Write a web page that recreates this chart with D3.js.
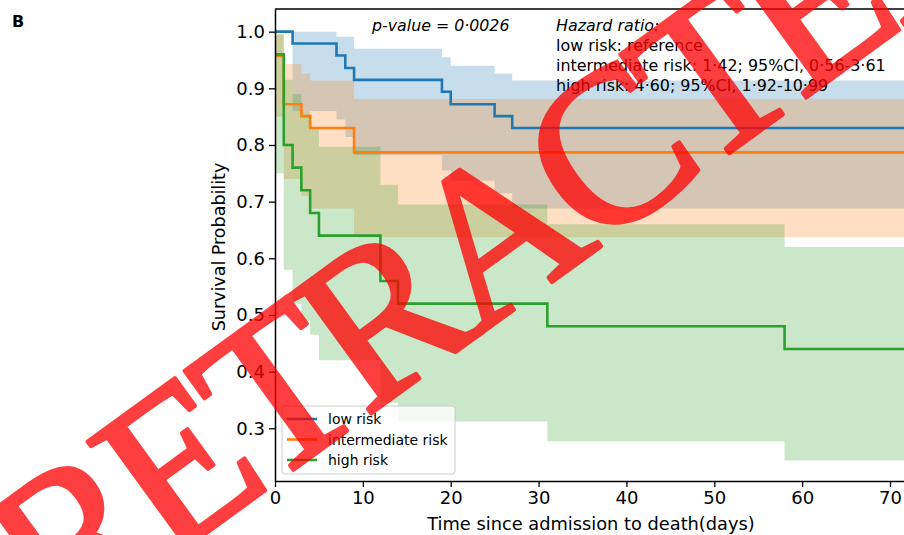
<!DOCTYPE html>
<html lang="en">
<head>
<meta charset="UTF-8">
<script src="https://d3js.org/d3.v7.min.js"></script>
<style>
  body { margin: 0; background: #fff; }
  svg { display: block; font-family: "DejaVu Sans", sans-serif; }
</style>
</head>
<body>
<div id="chart_area"></div>
<script>
// Kaplan-Meier estimates (step-post)
var lowTimes  = [0, 2, 7, 8, 9, 19, 20, 25, 27, 75];
var lowSurv   = [1.0, 0.979, 0.958, 0.936, 0.915, 0.894, 0.872, 0.851, 0.830, 0.830];
var lowUpper  = [1.0, 1.0, 0.991, 0.991, 0.970, 0.955, 0.940, 0.926, 0.914, 0.914];
var lowLower  = [1.0, 0.86, 0.845, 0.814, 0.782, 0.755, 0.737, 0.715, 0.688, 0.688];

var midTimes  = [0, 1, 3, 4, 9, 75];
var midSurv   = [0.957, 0.872, 0.851, 0.830, 0.787, 0.787];
var midUpper  = [0.995, 0.943, 0.926, 0.914, 0.881, 0.881];
var midLower  = [0.85, 0.74, 0.71, 0.688, 0.637, 0.637];

var highTimes = [0, 1, 2, 3, 4, 5, 12, 14, 31, 58, 75];
var highSurv  = [0.96, 0.80, 0.76, 0.72, 0.68, 0.64, 0.56, 0.52, 0.48, 0.44, 0.44];
var highUpper = [0.995, 0.915, 0.89, 0.86, 0.83, 0.797, 0.73, 0.695, 0.66, 0.62, 0.62];
var highLower = [0.75, 0.58, 0.52, 0.49, 0.465, 0.42, 0.345, 0.312, 0.277, 0.243, 0.243];

var seriesNames = ["low risk", "intermediate risk", "high risk"];
var colors = ["#1f77b4", "#ff7f0e", "#2ca02c"];

var xTicks = [0, 10, 20, 30, 40, 50, 60, 70];
var yTicks = [0.3, 0.4, 0.5, 0.6, 0.7, 0.8, 0.9, 1.0];

var hazardLines = [
  "low risk: reference",
  "intermediate risk: 1\u00b742; 95%CI, 0\u00b756-3\u00b761",
  "high risk: 4\u00b760; 95%CI, 1\u00b792-10\u00b799"
];

var W = 904, H = 535;
var mLeft = 275, mRight = 916, mTop = 9, mBottom = 481;

var svg = d3.select("#chart_area").append("svg")
  .attr("width", W).attr("height", H);

var x = d3.scaleLinear().domain([0, 72.96]).range([mLeft, mRight]);
var y = d3.scaleLinear().domain([0.207, 1.040]).range([mBottom, mTop]);

svg.append("clipPath").attr("id", "plotclip")
  .append("rect").attr("x", mLeft).attr("y", mTop)
  .attr("width", mRight - mLeft).attr("height", mBottom - mTop);

var series = [
  { t: lowTimes, s: lowSurv, lo: lowLower, hi: lowUpper },
  { t: midTimes, s: midSurv, lo: midLower, hi: midUpper },
  { t: highTimes, s: highSurv, lo: highLower, hi: highUpper }
];

var plot = svg.append("g").attr("clip-path", "url(#plotclip)");

var area = d3.area().curve(d3.curveStepAfter)
  .x(function(d) { return x(d.t); })
  .y0(function(d) { return y(d.lo); })
  .y1(function(d) { return y(d.hi); });

var line = d3.line().curve(d3.curveStepAfter)
  .x(function(d) { return x(d.t); })
  .y(function(d) { return y(d.s); });

series.forEach(function(sr, i) {
  var pts = sr.t.map(function(t, k) { return { t: t, s: sr.s[k], lo: sr.lo[k], hi: sr.hi[k] }; });
  plot.append("path").datum(pts)
    .attr("d", area)
    .attr("fill", colors[i])
    .attr("fill-opacity", 0.25);
});

series.forEach(function(sr, i) {
  var pts = sr.t.map(function(t, k) { return { t: t, s: sr.s[k] }; });
  plot.append("path").datum(pts)
    .attr("d", line)
    .attr("fill", "none")
    .attr("stroke", colors[i])
    .attr("stroke-width", 2.6);
});

// axes
var yAxis = svg.append("g")
  .attr("transform", "translate(" + mLeft + ",0)")
  .call(d3.axisLeft(y).tickValues(yTicks).tickFormat(d3.format(".1f"))
    .tickSize(6).tickSizeOuter(0).tickPadding(4));
var xAxis = svg.append("g")
  .attr("transform", "translate(0," + mBottom + ")")
  .call(d3.axisBottom(x).tickValues(xTicks).tickSize(6).tickSizeOuter(0).tickPadding(4));

[yAxis, xAxis].forEach(function(a) {
  a.selectAll("text").attr("font-family", "DejaVu Sans").attr("font-size", 18).attr("fill", "#000");
  a.selectAll("line").attr("stroke", "#000").attr("stroke-width", 1.3);
  a.select(".domain").attr("stroke", "#000").attr("stroke-width", 1.5);
});

svg.append("line")
  .attr("x1", mLeft).attr("x2", mRight).attr("y1", mTop).attr("y2", mTop)
  .attr("stroke", "#000").attr("stroke-width", 1.5);

svg.append("text")
  .attr("transform", "translate(225," + 247 + ") rotate(-90)")
  .attr("text-anchor", "middle")
  .attr("font-size", 17.5)
  .text("Survival Probability");

svg.append("text")
  .attr("x", 591).attr("y", 530)
  .attr("text-anchor", "middle")
  .attr("font-size", 17.8)
  .text("Time since admission to death(days)");

svg.append("text")
  .attr("x", 12).attr("y", 27)
  .attr("font-size", 16).attr("font-weight", "bold")
  .text("B");

// annotations
svg.append("text")
  .attr("x", 372).attr("y", 31)
  .attr("font-size", 15.8).attr("font-style", "italic")
  .text("p-value = 0\u00b70026");

svg.append("text")
  .attr("x", 556).attr("y", 31)
  .attr("font-size", 15.9).attr("font-style", "italic")
  .text("Hazard ratio:");

svg.selectAll(".hz").data(hazardLines).enter().append("text")
  .attr("class", "hz")
  .attr("x", 556)
  .attr("y", function(d, i) { return 51 + i * 20; })
  .attr("font-size", 15.9)
  .text(function(d) { return d; });

// legend
var lg = svg.append("g");
lg.append("rect")
  .attr("x", 282).attr("y", 406).attr("width", 173).attr("height", 68).attr("rx", 3)
  .attr("fill", "#fff").attr("fill-opacity", 0.8)
  .attr("stroke", "#cccccc").attr("stroke-width", 1);
seriesNames.forEach(function(n, i) {
  var yy = 419 + i * 20.5;
  lg.append("line").attr("x1", 287).attr("x2", 317).attr("y1", yy).attr("y2", yy)
    .attr("stroke", colors[i]).attr("stroke-width", 2.6);
  lg.append("text").attr("x", 328).attr("y", yy + 5)
    .attr("font-size", 14).text(n);
});

// watermark
svg.append("g").attr("opacity", 0.75)
  .append("text")
  .attr("transform", "translate(58,641) rotate(-36)")
  .attr("font-family", "Liberation Serif")
  .attr("font-size", 220)
  .attr("letter-spacing", -12)
  .attr("fill", "#ff0000")
  .attr("stroke", "#ff0000")
  .attr("stroke-width", 4)
  .attr("stroke-linejoin", "round")
  .text("RETRACTED");
</script>
</body>
</html>
